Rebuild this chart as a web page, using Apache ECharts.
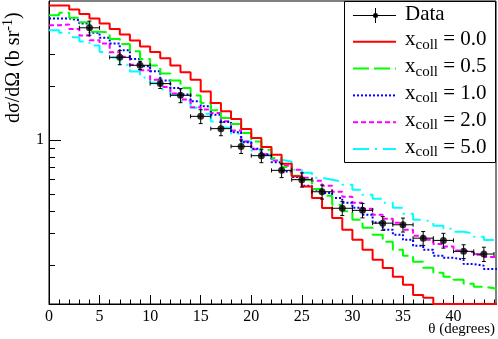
<!DOCTYPE html>
<html><head><meta charset="utf-8">
<script src="https://cdn.jsdelivr.net/npm/echarts@6/dist/echarts.min.js"></script>
<style>html,body{margin:0;padding:0;background:#fff}#c{width:498px;height:339px}</style>
</head><body><div id="c"></div>
<script>
// ---- data ----
const binLow = [0,1,2,3,4,5,6,7,8,9,10,11,12,13,14,15,16,17,18,19,20,21,22,23,24,25,26,27,28,29,30,31,32,33,34,35,36,37,38,39,40,41,42,43,44];
const binWidth = 1;
const xcoll00 = [5.61,5.61,5.33,5.02,4.74,4.45,4.14,3.86,3.57,3.31, 3.08,2.85,2.59,2.38,2.16,1.855,1.603,1.439,1.305,1.148, 1.022,0.910,0.824,0.734,0.624,0.548,0.472,0.415,0.365,0.314, 0.276,0.243,0.214,0.192,0.172,0.155,0.136,0.131,0.121,0.121, 0.121,0.121,0.121,0.121,0.121];
const xcoll05 = [4.95,5.10,4.79,4.52,4.00,3.96,3.65,3.42,3.11,2.82, 2.59,2.34,2.14,1.945,1.762,1.603,1.458,1.322,1.224,1.090, 0.978,0.879,0.790,0.704,0.629,0.598,0.530,0.487,0.433,0.398, 0.357,0.322,0.295,0.269,0.243,0.225,0.208,0.193,0.181,0.172, 0.165,0.157,0.151,0.148,0.148];
const xcoll10 = [4.74,4.74,4.64,4.45,3.95,3.70,3.44,3.15,2.82,2.57, 2.41,2.14,1.945,1.784,1.637,1.535,1.379,1.256,1.099,0.966, 0.890,0.824,0.747,0.665,0.619,0.553,0.526,0.504,0.472,0.445, 0.417,0.381,0.345,0.314,0.295,0.276,0.256,0.243,0.225,0.219, 0.214,0.202,0.198,0.190,0.190];
const xcoll20 = [4.35,4.39,4.15,3.81,3.59,3.44,3.07,2.90,2.62,2.44, 2.16,1.97,1.807,1.673,1.515,1.471,1.410,1.265,1.123,0.978, 0.885,0.830,0.766,0.716,0.680,0.613,0.590,0.553,0.512,0.480, 0.445,0.412,0.381,0.362,0.344,0.314,0.291,0.276,0.262,0.253, 0.241,0.235,0.228,0.221,0.221];
const xcoll50 = [4.08,3.95,3.73,3.53,3.35,3.08,2.87,2.62,2.40,2.22, 2.08,1.902,1.784,1.651,1.509,1.397,1.261,1.167,1.080,0.975, 0.870,0.824,0.773,0.754,0.680,0.654,0.613,0.598,0.583,0.561, 0.526,0.493,0.468,0.445,0.417,0.386,0.357,0.348,0.331,0.318, 0.306,0.299,0.287,0.275,0.275];
const dataTheta = [4,7,9,11,13,15,17,19,21,23,25,27,29,31,33,35,37,39,41,43];
const dataValue = [4.21,2.88,2.60,2.055,1.768,1.349,1.152,0.917,0.814,0.674,0.598,0.512,0.414,0.403,0.342,0.335,0.282,0.274,0.238,0.230];
const dataErr   = [0.38,0.26,0.14,0.125,0.16,0.12,0.10,0.08,0.07,0.06,0.054,0.046,0.037,0.037,0.030,0.030,0.025,0.026,0.021,0.021];
const dataThetaErr = [1,1,1,1,1,1,1,1,1,1,1,1,1,1,1,1,1,1,1,1];
const xMajorTicks = [0,5,10,15,20,25,30,35,40];
const xMinorTicks = [1,2,3,4,6,7,8,9,11,12,13,14,16,17,18,19,21,22,23,24,26,27,28,29,31,32,33,34,36,37,38,39,41,42,43,44];
const yMajorTicks = [1];
const yMinorTicks = [0.2,0.3,0.4,0.5,0.6,0.7,0.8,0.9,2,3];
const legendLabels = ['0.0','0.5','1.0','2.0','5.0'];

// ---- setup ----
const X_MIN = 0, X_MAX = 44.2, Y_MIN = 0.121, Y_MAX = 5.94;
const FONT = '"Liberation Serif", "Times New Roman", serif';
const colors = ['#ff0000','#00ff00','#0000ff','#ff00ff','#00ffff'];
const dashes = ['solid',[16,5],[2,2],[5,3],[16,6,2,6]];
const seriesVals = [xcoll00,xcoll05,xcoll10,xcoll20,xcoll50];

function stepData(vals){
  const d = binLow.map((x,i)=>[x, vals[i]]);
  d.push([binLow[binLow.length-1]+binWidth, vals[vals.length-1]]);
  return d;
}
function tickSeries(vals, len){
  return {type:'custom', coordinateSystem:'cartesian2d', silent:true, clip:false, z:6,
    data: vals.map(v=>[X_MIN, v]),
    renderItem:(params, api)=>{
      const p = api.coord([api.value(0), api.value(1)]);
      const y = Math.round(p[1]) + 0.5;
      return {type:'line', shape:{x1:p[0], y1:y, x2:p[0]+len, y2:y}, style:{stroke:'#000', lineWidth:1}};
    }};
}

const chart = echarts.init(document.getElementById('c'), null, {renderer:'canvas'});
const series = [];
[4,3,2,1,0].forEach(i=>{
  series.push({type:'line', data:stepData(seriesVals[i]), step:'end', symbol:'none', showSymbol:false,
    clip:true, z:2+ (4-i)*0.01, lineStyle:{color:colors[i], width:2, type:dashes[i]}, silent:true});
});
series.push(tickSeries(yMajorTicks, 12));
series.push(tickSeries(yMinorTicks, 6));
series.push({type:'custom', coordinateSystem:'cartesian2d', silent:true, clip:false, z:8,
  data: dataTheta.map((t,i)=>[t, dataValue[i], dataErr[i], dataThetaErr[i]]),
  renderItem:(params, api)=>{
    const x = api.value(0), y = api.value(1), ey = api.value(2), ex = api.value(3);
    const l = api.coord([x-ex, y]), r = api.coord([x+ex, y]);
    const lo = api.coord([x, y-ey]), hi = api.coord([x, y+ey]);
    const cap = 2, st = {stroke:'#000', lineWidth:1};
    return {type:'group', children:[
      {type:'line', shape:{x1:l[0], y1:l[1], x2:r[0], y2:r[1]}, style:st},
      {type:'line', shape:{x1:lo[0], y1:lo[1], x2:hi[0], y2:hi[1]}, style:st},
      {type:'line', shape:{x1:l[0], y1:l[1]-cap, x2:l[0], y2:l[1]+cap}, style:st},
      {type:'line', shape:{x1:r[0], y1:r[1]-cap, x2:r[0], y2:r[1]+cap}, style:st},
      {type:'line', shape:{x1:lo[0]-cap, y1:lo[1], x2:lo[0]+cap, y2:lo[1]}, style:st},
      {type:'line', shape:{x1:hi[0]-cap, y1:hi[1], x2:hi[0]+cap, y2:hi[1]}, style:st}
    ]};
  }});
series.push({type:'scatter', data: dataTheta.map((t,i)=>[t, dataValue[i]]), symbol:'circle', symbolSize:7,
  itemStyle:{color:'#000'}, z:9, silent:true});

// legend graphics
const LX1 = 353, LX2 = 396, TX = 405;
const rowY = [15, 41.7, 68.6, 95.4, 122.2, 149];
const graphics = [
  {type:'rect', shape:{x:344.5, y:1.5, width:151, height:161}, style:{fill:'#fff', stroke:'#000', lineWidth:1}, z:100},
  {type:'line', shape:{x1:LX1, y1:rowY[0]+0.5, x2:LX2, y2:rowY[0]+0.5}, style:{stroke:'#000', lineWidth:1}, z:101},
  {type:'line', shape:{x1:375.5, y1:8, x2:375.5, y2:23}, style:{stroke:'#000', lineWidth:1}, z:101},
  {type:'circle', shape:{cx:375.5, cy:rowY[0]+0.5, r:2.5}, style:{fill:'#000'}, z:102},
  {type:'text', x:TX, y:rowY[0]-1, style:{text:'Data', font:'21px '+FONT, fill:'#000', align:'left', verticalAlign:'middle'}, z:102}
];
legendLabels.forEach((lab,i)=>{
  const y = rowY[i+1];
  graphics.push({type:'line', shape:{x1:LX1, y1:y, x2:LX2, y2:y}, style:{stroke:colors[i], lineWidth:2, lineDash: dashes[i]==='solid'?null:dashes[i]}, z:101});
  graphics.push({type:'text', x:TX, y:y-2, z:102, style:{
    text:'{a|x}{b|coll}{a| = '+lab+'}', align:'left', verticalAlign:'middle', fill:'#000',
    rich:{a:{fontSize:21, fontFamily:FONT, lineHeight:25, verticalAlign:'middle', fill:'#000'},
          b:{fontSize:15, fontFamily:FONT, lineHeight:15, verticalAlign:'bottom', fill:'#000'}}}});
});
// axis titles
graphics.push({type:'text', x:495, y:329, z:102, style:{text:'θ (degrees)', font:'15px '+FONT, fill:'#000', align:'right', verticalAlign:'middle'}});
graphics.push({type:'text', x:14, y:123, rotation:Math.PI/2, z:102, style:{
  text:'{m|dσ/dΩ (b sr}{s|-1}{m|)}', align:'left', verticalAlign:'middle', fill:'#000',
  rich:{m:{fontSize:20, fontFamily:FONT, lineHeight:26, verticalAlign:'middle', fill:'#000'},
        s:{fontSize:14, fontFamily:FONT, lineHeight:14, verticalAlign:'top', fill:'#000'}}}});

chart.setOption({
  animation:false,
  backgroundColor:'#fff',
  grid:{left:49, right:2, top:1, bottom:35, show:true, borderColor:'#000', borderWidth:1, containLabel:false, outerBoundsMode:'none'},
  xAxis:[
    {type:'value', min:X_MIN, max:X_MAX, position:'bottom',
     axisLine:{show:true, onZero:false, lineStyle:{color:'#000', width:1}},
     axisTick:{show:true, inside:true, length:9, customValues:xMajorTicks, lineStyle:{color:'#000', width:1}},
     axisLabel:{customValues:xMajorTicks, fontFamily:FONT, fontSize:16, color:'#000', margin:5},
     splitLine:{show:false}},
    {type:'value', min:X_MIN, max:X_MAX, position:'bottom', offset:0,
     axisLine:{show:false},
     axisTick:{show:true, inside:true, length:4.5, customValues:xMinorTicks, lineStyle:{color:'#000', width:1}},
     axisLabel:{show:false}, splitLine:{show:false}}
  ],
  yAxis:{type:'log', logBase:10, min:Y_MIN, max:Y_MAX,
    axisLine:{show:true, onZero:false, lineStyle:{color:'#000', width:1}},
    axisTick:{show:false}, splitLine:{show:false}, minorTick:{show:false},
    axisLabel:{fontFamily:FONT, fontSize:16, color:'#000', margin:5, showMinLabel:false, showMaxLabel:false,
      formatter:(v)=> Math.abs(v-1)<1e-6 ? '1' : ''}},
  series: series,
  graphic: graphics
});
</script></body></html>
